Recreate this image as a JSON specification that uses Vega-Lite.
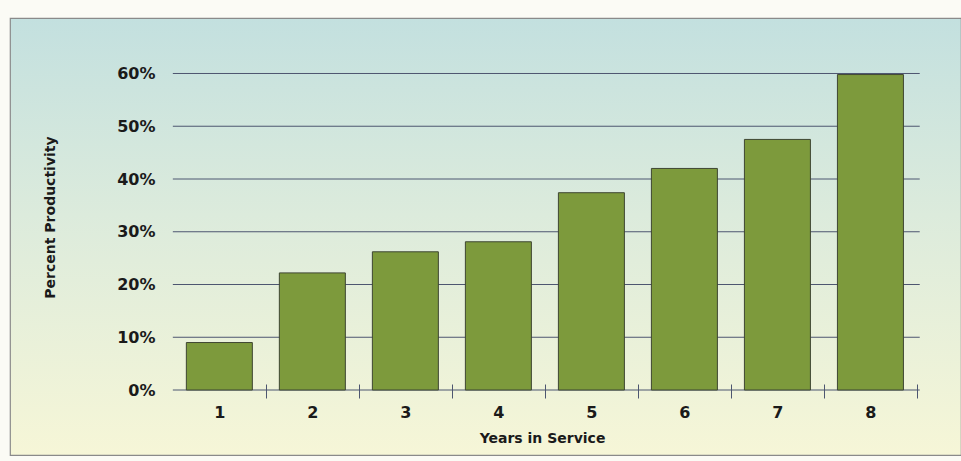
{
  "$schema": "https://vega.github.io/schema/vega-lite/v6.json",
  "width": 951,
  "height": 437,
  "autosize": {"type": "none"},
  "padding": {"left": 10, "top": 18, "right": 0, "bottom": 6},
  "background": "#fbfbf5",
  "config": {
    "view": {
      "fill": {
        "gradient": "linear",
        "x1": 0, "y1": 0, "x2": 0, "y2": 1,
        "stops": [
          {"offset": 0, "color": "#c3e0df"},
          {"offset": 0.45, "color": "#dcebdc"},
          {"offset": 1, "color": "#f6f6d7"}
        ]
      },
      "stroke": "#8a8a8a",
      "strokeWidth": 1.2
    }
  },
  "datasets": {
    "bars": [
      {"year": 1, "pct": 9},
      {"year": 2, "pct": 22.2},
      {"year": 3, "pct": 26.2},
      {"year": 4, "pct": 28.1},
      {"year": 5, "pct": 37.4},
      {"year": 6, "pct": 42},
      {"year": 7, "pct": 47.5},
      {"year": 8, "pct": 59.8}
    ],
    "grid": [
      {"tick": 0}, {"tick": 10}, {"tick": 20}, {"tick": 30}, {"tick": 40}, {"tick": 50}, {"tick": 60}
    ]
  },
  "layer": [
    {
      "data": {"name": "grid"},
      "mark": {"type": "rule", "color": "#4d5670", "strokeWidth": 1},
      "encoding": {
        "y": {
          "field": "tick",
          "type": "quantitative",
          "scale": {"domain": [-12.32, 70.52], "nice": false, "zero": false}
        },
        "x": {
          "datum": 0.5,
          "type": "quantitative",
          "scale": {"domain": [-1.197, 8.92], "nice": false, "zero": false}
        },
        "x2": {"datum": 8.53}
      }
    },
    {
      "data": {"name": "bars"},
      "mark": {"type": "bar", "width": 66, "color": "#7d9a3c", "stroke": "#3e4632", "strokeWidth": 1},
      "encoding": {
        "x": {
          "field": "year",
          "type": "quantitative",
          "axis": {
            "values": [1, 1.5, 2, 2.5, 3, 3.5, 4, 4.5, 5, 5.5, 6, 6.5, 7, 7.5, 8, 8.5],
            "labelExpr": "datum.value % 1 == 0 ? format(datum.value, 'd') : ''",
            "labelFlush": false,
            "labelOverlap": false,
            "labelBound": false,
            "domain": false,
            "grid": false,
            "tickSize": 14,
            "tickColor": "#4d5670",
            "tickWidth": 1,
            "tickOpacity": {"condition": {"test": "datum.value % 1 == 0", "value": 0}, "value": 1},
            "offset": -71,
            "labelPadding": 6,
            "labelFont": "DejaVu Sans",
            "labelFontWeight": "bold",
            "labelFontSize": 16,
            "labelColor": "#1a1a1a",
            "title": "Years in Service",
            "titleFont": "DejaVu Sans",
            "titleFontWeight": "bold",
            "titleFontSize": 14,
            "titleColor": "#1a1a1a",
            "titleX": 532,
            "titleY": 54,
            "titleAlign": "center",
            "titleBaseline": "middle"
          }
        },
        "y": {
          "field": "pct",
          "type": "quantitative",
          "axis": {
            "values": [0, 10, 20, 30, 40, 50, 60],
            "labelExpr": "datum.value + '%'",
            "domain": false,
            "grid": false,
            "ticks": false,
            "offset": -145,
            "labelPadding": 0,
            "labelFont": "DejaVu Sans",
            "labelFontWeight": "bold",
            "labelFontSize": 16,
            "labelColor": "#1a1a1a",
            "title": "Percent Productivity",
            "titleFont": "DejaVu Sans",
            "titleFontWeight": "bold",
            "titleFontSize": 14,
            "titleColor": "#1a1a1a",
            "titleX": -105,
            "titleY": 199,
            "titleAngle": -90,
            "titleAlign": "center",
            "titleBaseline": "middle"
          }
        },
        "y2": {"datum": 0}
      }
    }
  ]
}
